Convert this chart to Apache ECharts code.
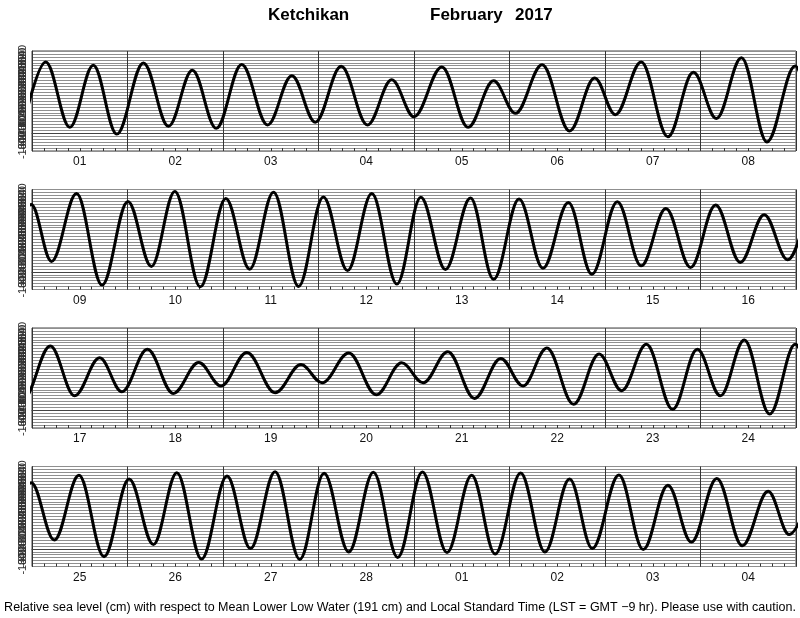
<!DOCTYPE html>
<html>
<head>
<meta charset="utf-8">
<script src="https://cdn.jsdelivr.net/npm/echarts@6/dist/echarts.min.js"></script>
<style>
html,body{margin:0;padding:0;background:#fff;}
#c{width:800px;height:618px;}
</style>
</head>
<body>
<div id="c"></div>
<script>
// Times of high/low water (hours since 1 Feb 2017 00:00 LST) and levels (cm)
const extremeHours = [
  -2.4, 3.45, 9.5, 15.4, 21.3, 28.0, 34.3, 40.3, 46.3, 52.7, 59.2, 65.3, 71.2, 77.7, 84.3, 90.4,
  96.0, 103.0, 109.6, 116.0, 121.5, 128.2, 135.1, 141.4, 146.6, 153.1, 159.8, 166.2, 172.0, 178.3, 184.7, 191.8,
  196.9, 203.2, 209.6, 216.1, 222.0, 227.9, 234.3, 240.7, 246.7, 252.7, 259.0, 265.2, 271.3, 277.4, 283.7, 289.7,
  295.9, 302.2, 308.0, 314.4, 320.4, 326.8, 332.7, 339.1, 345.1, 351.3, 357.5, 363.8, 370.0, 376.0, 381.9,
  388.6, 394.7, 401.0, 406.6, 413.0, 419.5, 425.9, 431.5, 438.0, 445.1, 451.6, 456.9, 463.6, 470.5, 476.9, 482.3,
  488.5, 495.2, 501.8, 507.4, 513.4, 520.1, 526.5, 532.2, 538.4, 545.0, 551.2, 557.0, 563.0, 569.4, 575.8,
  581.6, 587.8, 594.1, 600.4, 606.5, 612.4, 618.6, 625.0, 630.9, 637.1, 643.3, 649.4, 655.6, 661.8, 667.9, 674.1,
  680.3, 686.5, 692.4, 698.8, 704.9, 711.1, 716.8, 723.5, 729.6, 735.8, 741.7, 748.1, 754.5, 761.0, 766.3, 772.5
];
const extremeLevels = [
  29, 486, 41, 463, -5, 479, 48, 429, 34, 468, 57, 392, 76, 456, 57, 364,
  113, 452, 41, 357, 136, 466, 16, 376, 127, 486, -23, 415, 101, 514, -58, 458,
  71, 532, -90, 479, 37, 546, -102, 498, 18, 542, -99, 509, 9, 532, -83, 507,
  16, 502, -51, 495, 25, 472, -16, 477, 41, 431, 30, 454, 64, 389, 82,
  438, 99, 357, 127, 415, 115, 325, 166, 394, 120, 311, 187, 390, 106, 323, 187,
  399, 81, 353, 166, 424, 41, 383, 134, 449, 7, 415, 99, 479, -25, 450,
  60, 500, -53, 475, 30, 518, -69, 495, 2, 525, -72, 514, -21, 521, -58, 523,
  -25, 500, -35, 516, -21, 475, 2, 502, -5, 433, 46, 479, 21, 392, 97, 440
];
const panelDays = [
  ['01','02','03','04','05','06','07','08'],
  ['09','10','11','12','13','14','15','16'],
  ['17','18','19','20','21','22','23','24'],
  ['25','26','27','28','01','02','03','04']
];
const yMin = -120, yMax = 560, yStep = 20;
const hoursPerPanel = 192;
const dayHours = 24, tickHours = 3;

const data = extremeHours.map((h, i) => [h, extremeLevels[i]]);
const tops = [51, 189.5, 328, 466.5];

const grids = [], xAxes = [], yAxes = [], series = [];
tops.forEach((top, k) => {
  grids.push({left: 32, right: 4, top: top, height: 100, show: true,
    borderColor: '#444', borderWidth: 1, backgroundColor: 'transparent', containLabel: false});
  // day lines
  xAxes.push({
    type: 'value', gridIndex: k, position: 'bottom',
    min: k * hoursPerPanel, max: (k + 1) * hoursPerPanel, interval: dayHours,
    axisLine: {show: true, lineStyle: {color: '#444', width: 1}},
    axisTick: {show: false},
    axisLabel: {show: false},
    splitLine: {show: true, lineStyle: {color: '#333', width: 1}},
    z: 3
  });
  // 3-hour ticks
  xAxes.push({
    type: 'value', gridIndex: k, position: 'bottom',
    min: k * hoursPerPanel, max: (k + 1) * hoursPerPanel, interval: tickHours,
    axisLine: {show: false},
    axisTick: {show: true, inside: true, length: 3, lineStyle: {color: '#333', width: 1}},
    axisLabel: {show: false},
    splitLine: {show: false},
    z: 3
  });
  // day labels
  xAxes.push({
    type: 'category', gridIndex: k, position: 'bottom', data: panelDays[k],
    boundaryGap: true,
    axisLine: {show: false}, axisTick: {show: false}, splitLine: {show: false},
    axisLabel: {show: true, fontSize: 12, color: '#111', margin: 5, fontFamily: 'Liberation Sans'}
  });
  yAxes.push({
    type: 'value', gridIndex: k, min: yMin, max: yMax, interval: yStep,
    axisLine: {show: true, lineStyle: {color: '#444'}},
    axisTick: {show: false},
    axisLabel: {show: true, rotate: 90, fontSize: 11, color: '#333', margin: 4,
      fontFamily: 'Liberation Sans', hideOverlap: false},
    splitLine: {show: true, lineStyle: {color: '#8f8f8f', width: 1}}
  });
  series.push({
    type: 'line', xAxisIndex: 3 * k, yAxisIndex: k, data: data,
    smooth: 0.36, smoothMonotone: 'x', showSymbol: false, clip: true,
    lineStyle: {color: '#000', width: 3}, silent: true, animation: false, z: 5
  });
});

const chart = echarts.init(document.getElementById('c'), null, {renderer: 'canvas'});
chart.setOption({
  animation: false,
  backgroundColor: '#fff',
  grid: grids, xAxis: xAxes, yAxis: yAxes, series: series,
  graphic: [
    {type: 'text', left: 268, top: 7, style: {text: 'Ketchikan', font: 'bold 17px "Liberation Sans"', fill: '#000'}},
    {type: 'text', left: 430, top: 7, style: {text: 'February', font: 'bold 17px "Liberation Sans"', fill: '#000'}},
    {type: 'text', left: 515, top: 7, style: {text: '2017', font: 'bold 17px "Liberation Sans"', fill: '#000'}},
    {type: 'text', left: 'center', top: 601, style: {
      text: 'Relative sea level (cm) with respect to Mean Lower Low Water (191 cm) and Local Standard Time (LST = GMT \u22129 hr). Please use with caution.',
      font: '12.5px "Liberation Sans"', fill: '#000'}}
  ]
});
</script>
</body>
</html>
